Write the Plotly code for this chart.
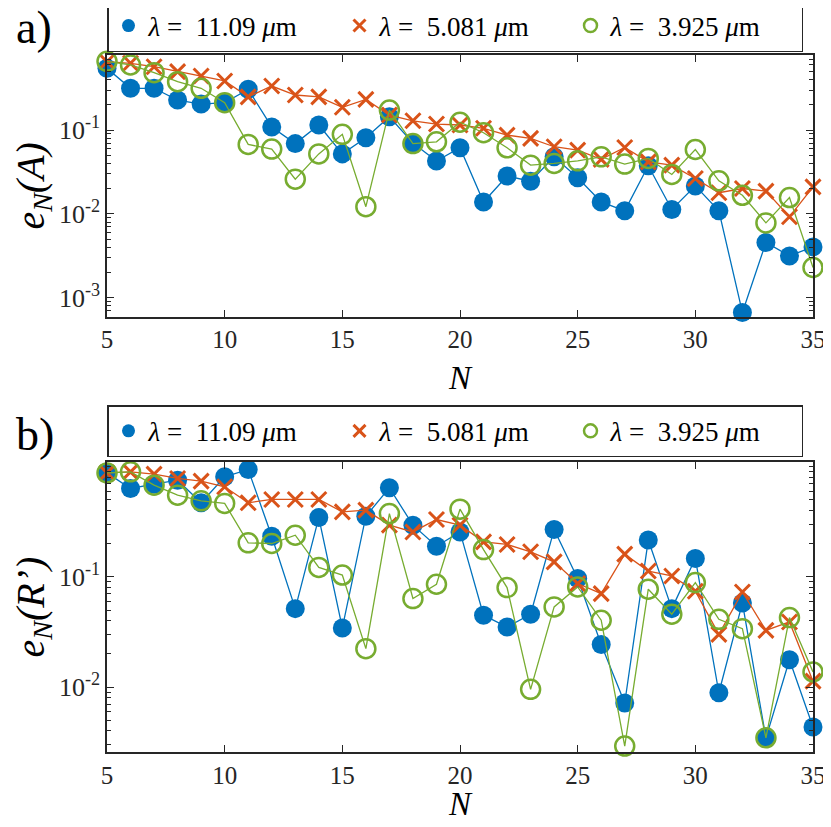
import plotly.graph_objects as go

# model order N and the three wavelengths
N = list(range(5, 36))
labels = ["11.09", "5.081", "3.925"]
colors = ["#0072BD", "#D95319", "#77AC30"]

# a) e_N(A)
errA_11 = [0.545, 0.315, 0.315, 0.228, 0.204, 0.212, 0.306, 0.109, 0.069, 0.115, 0.052,
           0.081, 0.144, 0.070, 0.0427, 0.0615, 0.0139, 0.0283, 0.0246, 0.048, 0.027,
           0.0139, 0.0109, 0.0375, 0.0113, 0.0216, 0.0109, 0.00067, 0.00457, 0.00316, 0.00405]
errA_5 = [0.653, 0.625, 0.569, 0.497, 0.441, 0.385, 0.249, 0.335, 0.262, 0.249, 0.187,
          0.232, 0.151, 0.129, 0.118, 0.115, 0.105, 0.087, 0.0796, 0.0633, 0.0577,
          0.0447, 0.062, 0.0418, 0.0382, 0.0265, 0.0179, 0.0201, 0.0187, 0.00925, 0.021]
errA_3 = [0.66, 0.597, 0.483, 0.378, 0.315, 0.212, 0.0675, 0.0593, 0.026, 0.052, 0.0889,
          0.0122, 0.173, 0.069, 0.0725, 0.124, 0.093, 0.0615, 0.0382, 0.040, 0.043,
          0.048, 0.0393, 0.0459, 0.0296, 0.0587, 0.0248, 0.0167, 0.00783, 0.0157, 0.0023]

# b) e_N(R')
errR_11 = [0.88, 0.635, 0.695, 0.756, 0.471, 0.811, 0.946, 0.234, 0.0515, 0.346, 0.0344,
           0.356, 0.644, 0.295, 0.19, 0.256, 0.0449, 0.0351, 0.0458, 0.269, 0.0966,
           0.0243, 0.00716, 0.216, 0.0515, 0.147, 0.00887, 0.058, 0.00344, 0.0177, 0.00433]
errR_5 = [0.88, 0.90, 0.857, 0.783, 0.741, 0.658, 0.471, 0.505, 0.505, 0.505, 0.39,
          0.404, 0.295, 0.256, 0.332, 0.295, 0.208, 0.197, 0.169, 0.137, 0.087,
          0.0705, 0.161, 0.113, 0.102, 0.0741, 0.0301, 0.073, 0.0327, 0.039, 0.0113]
errR_3 = [0.88, 0.90, 0.681, 0.552, 0.491, 0.465, 0.204, 0.201, 0.239, 0.122, 0.104,
          0.0223, 0.376, 0.0636, 0.0858, 0.412, 0.177, 0.080, 0.00953, 0.0534, 0.0811,
          0.0404, 0.00291, 0.0773, 0.0458, 0.0888, 0.0412, 0.0339, 0.00346, 0.0427, 0.0137]

ytick_vals = [1e-3, 1e-2, 1e-1]
ytick_text = ["10<sup>-3</sup>", "10<sup>-2</sup>", "10<sup>-1</sup>"]

FONT = "Liberation Serif, Times New Roman, Times, serif"
AX = "#262626"

markers = [
    dict(symbol="circle", size=19, color=colors[0], line=dict(width=0)),
    dict(symbol="x-thin-open", size=15, color=colors[1], line=dict(width=3)),
    dict(symbol="circle-open", size=19, color=colors[2], line=dict(width=2.5)),
]
legend_markers = [
    dict(symbol="circle", size=13, color=colors[0], line=dict(width=0)),
    dict(symbol="x-thin-open", size=12, color=colors[1], line=dict(width=3)),
    dict(symbol="circle-open", size=13, color=colors[2], line=dict(width=2.5)),
]

fig = go.Figure()

panels = [([errA_11, errA_5, errA_3], "x", "y", "legend"),
          ([errR_11, errR_5, errR_3], "x2", "y2", "legend2")]
for series, xa, ya, lg in panels:
    for i, vals in enumerate(series):
        fig.add_trace(go.Scatter(x=N, y=vals, mode="lines+markers", xaxis=xa, yaxis=ya,
                                 line=dict(color=colors[i], width=1.3), cliponaxis=False,
                                 marker=markers[i], showlegend=False))
    for i, lab in enumerate(labels):
        fig.add_trace(go.Scatter(x=[None], y=[None], mode="markers", xaxis=xa, yaxis=ya,
                                 marker=legend_markers[i], legend=lg,
                                 name="<i>λ</i>\u00a0=\u00a0\u00a0" + lab + "\u00a0<i>μ</i>m"))

xcommon = dict(range=[5, 35], tick0=5, dtick=5, ticks="inside", ticklen=7, tickwidth=1.3,
               tickcolor=AX, showline=True, linecolor=AX, linewidth=1.5, mirror="ticks",
               showgrid=False, zeroline=False, ticklabeloverflow="allow",
               tickfont=dict(family=FONT, size=25, color=AX))
ycommon = dict(type="log", tickmode="array", tickvals=ytick_vals, ticktext=ytick_text,
               ticks="inside", ticklen=7, tickwidth=1.3, tickcolor=AX,
               showline=True, linecolor=AX, linewidth=1.5, mirror="ticks",
               showgrid=False, zeroline=False,
               minor=dict(ticks="inside", ticklen=4, tickwidth=1, tickcolor=AX,
                          dtick="D1", showgrid=False),
               tickfont=dict(family=FONT, size=26, color=AX))

legcommon = dict(orientation="h", xanchor="left", x=0, yanchor="middle",
                 bordercolor=AX, borderwidth=1.5, bgcolor="white",
                 font=dict(family=FONT, size=27, color="black"),
                 entrywidthmode="pixels", entrywidth=186, itemwidth=30)

txt = dict(xref="paper", yref="paper", showarrow=False, yanchor="middle")

# the page body adds 8px on every side, so the figure is kept inside the window
fig.update_layout(
    width=815, height=811,
    margin=dict(l=99, r=10, t=47, b=67, autoexpand=False),
    paper_bgcolor="white", plot_bgcolor="white",
    xaxis=dict(xcommon, domain=[0, 1], anchor="y"),
    yaxis=dict(ycommon, domain=[0.6245, 1], anchor="x", range=[-3.225, -0.105],
               title=dict(text="<i>e<sub>N</sub>(A)</i>", standoff=4,
                          font=dict(family=FONT, size=40, color="black"))),
    xaxis2=dict(xcommon, domain=[0, 1], anchor="y2"),
    yaxis2=dict(ycommon, domain=[0, 0.416], anchor="x2", range=[-2.59, 0.043],
                title=dict(text="<i>e<sub>N</sub>(R’)</i>", standoff=4,
                           font=dict(family=FONT, size=40, color="black"))),
    legend=dict(legcommon, y=1.0416),
    legend2=dict(legcommon, y=0.4601),
    annotations=[
        dict(txt, text="a)", x=-0.1317, y=1.040, xanchor="left",
             font=dict(family=FONT, size=46, color="black")),
        dict(txt, text="b)", x=-0.1317, y=0.455, xanchor="left",
             font=dict(family=FONT, size=46, color="black")),
        dict(txt, text="<i>N</i>", x=0.5, y=0.5366, xanchor="center",
             font=dict(family=FONT, size=33, color="black")),
        dict(txt, text="<i>N</i>", x=0.5, y=-0.0745, xanchor="center",
             font=dict(family=FONT, size=33, color="black")),
    ],
)

fig.write_html("out.html")
